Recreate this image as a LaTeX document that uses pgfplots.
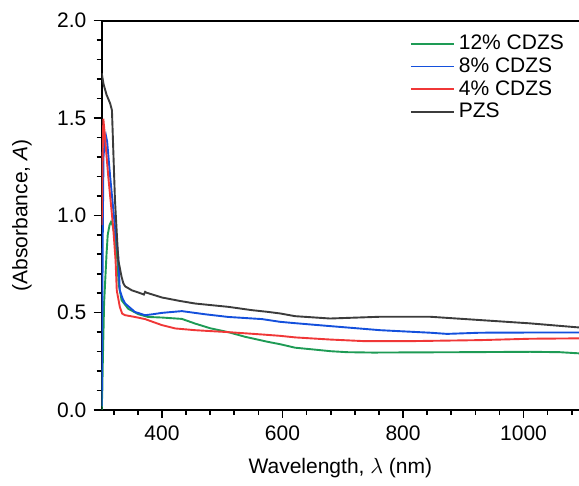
\documentclass[border=0pt]{standalone}
\usepackage{fontspec}
\setmainfont{Liberation Sans}
\usepackage{pgfplots}
\pgfplotsset{compat=1.18}
\definecolor{cgreen}{RGB}{30,155,85}
\definecolor{cblue}{RGB}{20,80,220}
\definecolor{cred}{RGB}{240,55,55}
\definecolor{cblack}{RGB}{60,60,60}
\begin{document}
\fontsize{10.5}{12.6}\selectfont
\begin{tikzpicture}
\useasboundingbox (-50.85pt,-38pt) rectangle (238.65pt,205pt);
\begin{axis}[
  scale only axis,
  width=238.65pt, height=194.65pt,
  xmin=300, xmax=1092, ymin=0, ymax=2,
  axis x line*=bottom, axis y line*=left,
  axis line style={-, line width=1pt},
  tick align=outside,
  major tick length=4pt, minor tick length=2.5pt,
  every tick/.style={black, line width=0.8pt},
  xtick={400,600,800,1000},
  minor xtick={320,360,440,480,520,560,640,680,720,760,840,880,920,960,1040,1080},
  ytick={0,0.5,1,1.5,2},
  minor ytick={0.1,0.2,0.3,0.4,0.6,0.7,0.8,0.9,1.1,1.2,1.3,1.4,1.6,1.7,1.8,1.9},
  yticklabel style={/pgf/number format/.cd, fixed, fixed zerofill, precision=1},
  /pgf/number format/assume math mode=true,
  xticklabel style={/pgf/number format/1000 sep={}},
  xlabel={Wavelength, $\lambda$ (nm)},
  ylabel={(Absorbance, \textit{A})},
  xlabel style={yshift=-2pt},
  ylabel style={yshift=5.5pt},
  legend style={draw=none, fill=none, at={(rel axis cs:0.645,0.975)}, anchor=north west,
    legend cell align=left, row sep=-1.5pt, inner sep=0pt},
  legend image code/.code={\draw[#1] (0pt,0pt) -- (21.5pt,0pt);},
  every axis plot/.append style={line width=0.95pt},
]
\draw[line width=1pt] (rel axis cs:0,1) -- (rel axis cs:1,1);
\addplot[cgreen] coordinates {
(300,0.0) (301,0.1) (302,0.27) (304,0.55) (308,0.80) (310,0.90) (313,0.95) (315.5,0.966)
(318,0.95) (322,0.89) (326,0.77) (328,0.65) (333,0.564) (344,0.52) (361,0.492) (377,0.478)
(400,0.475) (433,0.468) (455,0.444) (480,0.42) (510,0.40) (538,0.376) (576,0.35) (596,0.338)
(621,0.32) (651,0.311) (680,0.302) (707,0.297) (750,0.295) (817,0.296) (900,0.297)
(1011,0.299) (1060,0.297) (1092,0.291)
};
\addlegendentry{12\% CDZS}
\addplot[cblue] coordinates {
(300,0.02) (301,0.5) (302,1.0) (303,1.3) (305,1.38) (307,1.41) (309,1.38) (314,1.2)
(322,0.94) (327.5,0.79) (330,0.615) (335,0.57) (339,0.547) (355,0.504) (372,0.487)
(385,0.492) (400,0.499) (433,0.508) (471,0.492) (510,0.478) (566,0.467) (596,0.453)
(621,0.446) (679,0.431) (762,0.41) (845,0.397) (873,0.391) (928,0.397) (1011,0.398) (1092,0.398)
};
\addlegendentry{8\% CDZS}
\addplot[cred] coordinates {
(300,0.95) (301.5,1.3) (302.7,1.496) (305,1.42) (311,1.196) (319,0.94) (323,0.77)
(325,0.615) (330,0.53) (334,0.495) (339,0.487) (355,0.478) (372,0.467) (400,0.436)
(422,0.419) (455,0.41) (510,0.40) (566,0.388) (596,0.381) (621,0.373) (679,0.362)
(734,0.354) (817,0.354) (928,0.359) (1011,0.366) (1092,0.368)
};
\addlegendentry{4\% CDZS}
\addplot[cblack] coordinates {
(300,1.73) (303,1.675) (308,1.62) (314,1.575) (317,1.54) (322,1.08) (327.5,0.77)
(333,0.684) (336,0.65) (339,0.635) (350,0.615) (366,0.598) (370,0.593) (372,0.607)
(375,0.602) (400,0.578) (430,0.56) (455,0.547) (510,0.53) (549,0.513) (576,0.504)
(596,0.496) (621,0.482) (679,0.470) (762,0.479) (845,0.479) (928,0.462) (1011,0.445) (1092,0.424)
};
\addlegendentry{PZS}
\end{axis}
\end{tikzpicture}
\end{document}
